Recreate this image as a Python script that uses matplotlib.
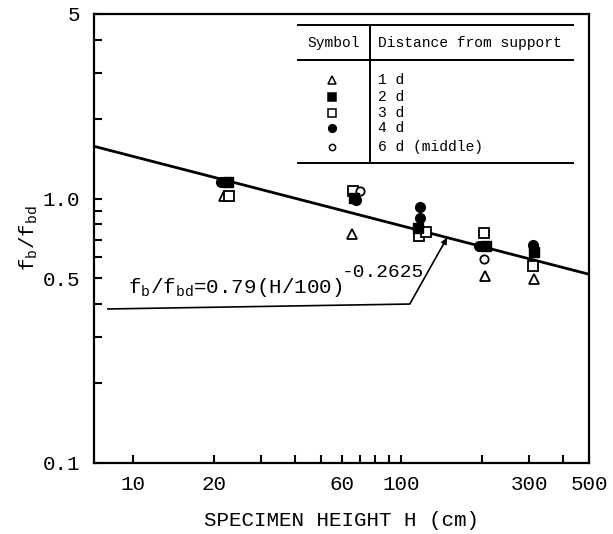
import numpy as np
import matplotlib
matplotlib.use("Agg")
import matplotlib.pyplot as plt
from matplotlib.ticker import FixedLocator, FixedFormatter, NullFormatter

plt.rcParams['font.family'] = ['Liberation Mono', 'DejaVu Sans Mono']
plt.rcParams['mathtext.fontset'] = 'custom'
plt.rcParams['mathtext.rm'] = 'Liberation Mono'
plt.rcParams['mathtext.it'] = 'Liberation Mono'

# данные (H в см, fb/fbd)
H_1d = [21.9, 65.6, 205, 311]
v_1d = [1.02, 0.734, 0.509, 0.496]
H_2d = [22.6, 66.8, 115.6, 207.5, 311]
v_2d = [1.16, 1.005, 0.776, 0.661, 0.627]
H_3d = [22.7, 66.0, 116.5, 123, 204, 308]
v_3d = [1.02, 1.068, 0.721, 0.746, 0.740, 0.557]
H_4d = [21.3, 67.5, 117, 117, 194, 308]
v_4d = [1.16, 0.99, 0.933, 0.844, 0.661, 0.667]
H_6d = [70.3, 204]
v_6d = [1.068, 0.593]

# аппроксимация fb/fbd = 0.79 (H/100)^-0.2625
coef = 0.79
expo = -0.2625

x_ticks = [10, 20, 60, 100, 300, 500]
x_minor = [30, 40, 50, 70, 80, 90, 200, 400]
y_ticks = [0.1, 0.5, 1.0, 5]
y_labels = ['0.1', '0.5', '1.0', '5']
y_minor = [0.2, 0.3, 0.4, 0.6, 0.7, 0.8, 0.9, 2, 3, 4]

legend_labels = ['1 d', '2 d', '3 d', '4 d', '6 d (middle)']

fig = plt.figure(figsize=(6.13, 5.34), dpi=100)
ax = fig.add_axes([0.1533, 0.1330, 0.8075, 0.8408])
ax.set_xscale('log')
ax.set_yscale('log')
ax.set_xlim(7.15, 500)
ax.set_ylim(0.1, 5)

# линия аппроксимации
hh = np.geomspace(7.15, 500, 200)
ax.plot(hh, coef * (hh / 100) ** expo, color='k', lw=2.0, zorder=2)

# точки
ax.plot(H_1d, v_1d, ls='None', marker='^', ms=7.5, mfc='white', mec='k', mew=1.3, zorder=3)
ax.plot(H_3d, v_3d, ls='None', marker='s', ms=6.5, mfc='white', mec='k', mew=1.3, zorder=3)
ax.plot(H_6d, v_6d, ls='None', marker='o', ms=6, mfc='white', mec='k', mew=1.3, zorder=3)
ax.plot(H_2d, v_2d, ls='None', marker='s', ms=7, mfc='k', mec='k', zorder=4)
ax.plot(H_4d, v_4d, ls='None', marker='o', ms=7, mfc='k', mec='k', zorder=4)

# оси и тики
for s in ax.spines.values():
    s.set_linewidth(1.6)
ax.xaxis.set_major_locator(FixedLocator(x_ticks))
ax.xaxis.set_major_formatter(FixedFormatter([str(t) for t in x_ticks]))
ax.xaxis.set_minor_locator(FixedLocator(x_minor))
ax.xaxis.set_minor_formatter(NullFormatter())
ax.yaxis.set_major_locator(FixedLocator(y_ticks))
ax.yaxis.set_major_formatter(FixedFormatter(y_labels))
ax.yaxis.set_minor_locator(FixedLocator(y_minor))
ax.yaxis.set_minor_formatter(NullFormatter())
ax.tick_params(axis='both', which='both', direction='in', length=6, width=1.5,
               labelsize=15, top=False, right=False)
ax.tick_params(axis='x', which='major', pad=9)
ax.tick_params(axis='y', which='major', pad=10)

ax.set_xlabel('SPECIMEN HEIGHT H (cm)', fontsize=15, labelpad=12)
ax.set_ylabel(r'$\mathregular{f_b/f_{bd}}$', fontsize=15, labelpad=2)

# подпись формулы со стрелкой
t1 = ax.text(0.068, 0.379, r'$\mathregular{f_b/f_{bd}}$=0.79(H/100)', transform=ax.transAxes,
             fontsize=15, va='baseline', ha='left')
ax.annotate('-0.2625', xy=(1.0, 0.78), xycoords=t1, fontsize=14, va='bottom', ha='left')
ax.plot([0.028, 0.638, 0.713], [0.343, 0.354, 0.501], color='k', lw=1.2,
        transform=ax.transAxes, zorder=2)
ax.annotate('', xy=(0.716, 0.507), xytext=(0.70, 0.475), xycoords='axes fraction',
            arrowprops=dict(arrowstyle='-|>', color='k', lw=1.0, mutation_scale=9))

# таблица условных обозначений
lk = dict(color='k', lw=1.4, transform=ax.transAxes)
ax.plot([0.412, 0.968], [0.9755, 0.9755], **lk)
ax.plot([0.412, 0.968], [0.8976, 0.8976], **lk)
ax.plot([0.412, 0.968], [0.668, 0.668], **lk)
ax.plot([0.5576, 0.5576], [0.9755, 0.668], **lk)
ax.text(0.485, 0.936, 'Symbol', transform=ax.transAxes, fontsize=10.5, ha='center', va='center')
ax.text(0.574, 0.936, 'Distance from support', transform=ax.transAxes, fontsize=10.5,
        ha='left', va='center')
rows_y = [0.853, 0.815, 0.780, 0.746, 0.704]
sym = [dict(marker='^', mfc='white', ms=6), dict(marker='s', mfc='k', ms=5.5),
       dict(marker='s', mfc='white', ms=5.5), dict(marker='o', mfc='k', ms=5.5),
       dict(marker='o', mfc='white', ms=4.5)]
for yy, lab, st in zip(rows_y, legend_labels, sym):
    ax.plot([0.481], [yy], ls='None', mec='k', mew=1.1, transform=ax.transAxes, **st)
    ax.text(0.574, yy, lab, transform=ax.transAxes, fontsize=10.5, ha='left', va='center')

fig.savefig('out.png', dpi=100)
